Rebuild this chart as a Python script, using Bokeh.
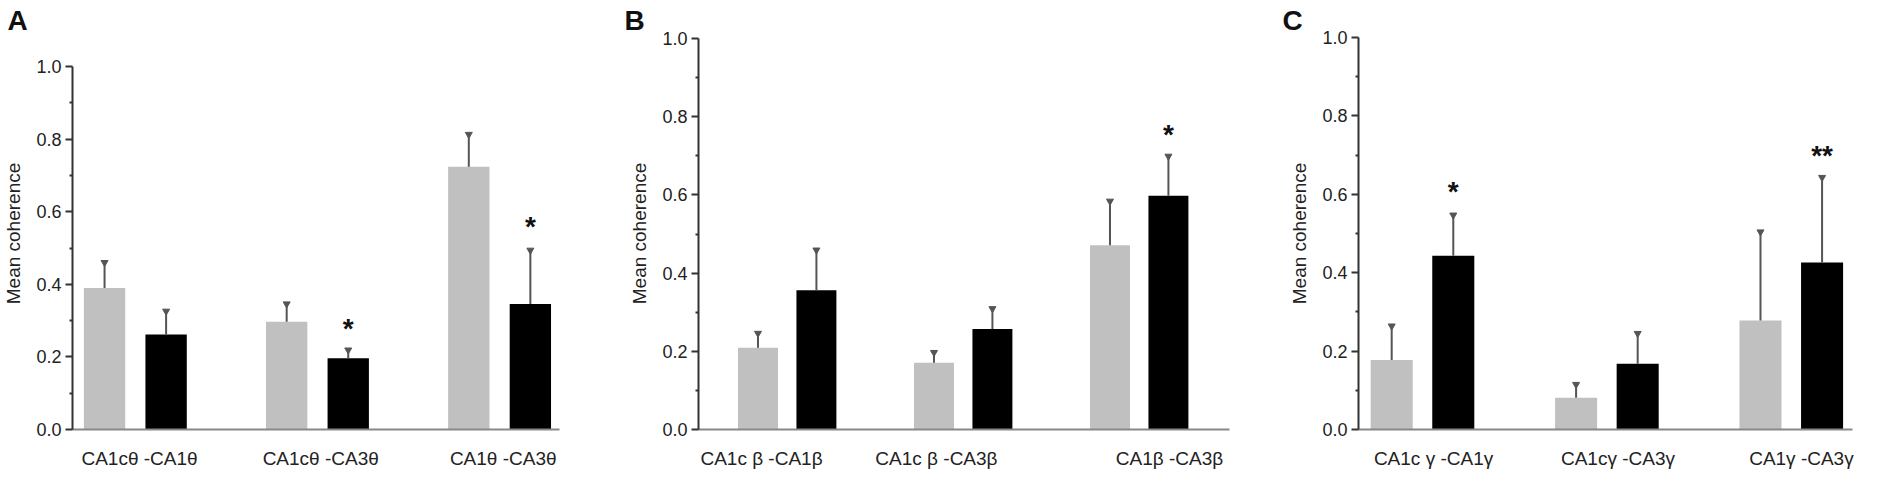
from bokeh.plotting import figure
from bokeh.layouts import row
from bokeh.models import Range1d, FixedTicker, PrintfTickFormatter, Title
from bokeh.core.properties import value
from bokeh.embed import file_html
from bokeh.resources import INLINE

FONT = "Liberation Sans"

# ---------------- data ----------------
# Panel A (theta)
a_labels = ["CA1cθ -CA1θ", "CA1cθ -CA3θ", "CA1θ -CA3θ"]
a_gray = [0.390, 0.297, 0.724]
a_gray_err = [0.070, 0.049, 0.089]
a_black = [0.262, 0.196, 0.346]
a_black_err = [0.064, 0.023, 0.148]
a_stars = ["", "*", "*"]
a_star_y = [0.0, 0.30, 0.58]

# Panel B (beta)
b_labels = ["CA1c β -CA1β", "CA1c β -CA3β", "CA1β -CA3β"]
b_gray = [0.209, 0.171, 0.471]
b_gray_err = [0.037, 0.026, 0.113]
b_black = [0.356, 0.257, 0.598]
b_black_err = [0.103, 0.052, 0.101]
b_stars = ["", "", "*"]
b_star_y = [0.0, 0.0, 0.776]

# Panel C (gamma)
c_labels = ["CA1c γ -CA1γ", "CA1cγ -CA3γ", "CA1γ -CA3γ"]
c_gray = [0.177, 0.081, 0.278]
c_gray_err = [0.087, 0.034, 0.226]
c_black = [0.443, 0.168, 0.426]
c_black_err = [0.104, 0.077, 0.217]
c_stars = ["*", "", "**"]
c_star_y = [0.628, 0.0, 0.719]

y_ticks = [0.0, 0.2, 0.4, 0.6, 0.8, 1.0]
y_minor = [0.1, 0.3, 0.5, 0.7, 0.9]

GRAY = "#c0c0c0"
BLACK = "#000000"
ERR = "#555555"
FIG_H = 473
TOP = 37
BOTTOM = 44


def panel(letter, labels, gray, gray_err, black, black_err, stars, star_y,
          width, bl, br, y_end, xr, label_pos, off, bw, letter_offset):
    p = figure(width=width, height=FIG_H, output_backend="svg", toolbar_location=None,
               x_range=Range1d(*xr), y_range=Range1d(0, y_end),
               min_border_left=bl, min_border_right=br, min_border_top=TOP,
               min_border_bottom=BOTTOM,
               background_fill_color="white", border_fill_color="white")
    p.outline_line_color = None
    p.xgrid.visible = False
    p.ygrid.visible = False

    p.title = Title(text=letter, align="left", offset=letter_offset,
                    standoff=3, text_font=FONT, text_font_size="28px",
                    text_font_style="bold", text_color="#111111")

    xs = list(range(len(labels)))
    xg = [x - off for x in xs]
    xb = [x + off for x in xs]
    p.vbar(x=xg, top=gray, width=bw, fill_color=GRAY, line_color=None)
    p.vbar(x=xb, top=black, width=bw, fill_color=BLACK, line_color=None)

    # error bars (upper only)
    for xx, v, e in ((xg, gray, gray_err), (xb, black, black_err)):
        tops = [a + b for a, b in zip(v, e)]
        p.segment(x0=xx, y0=v, x1=xx, y1=tops, line_color=ERR, line_width=2)
        p.scatter(x=xx, y=tops, marker="inverted_triangle", size=7,
                  fill_color=ERR, line_color=ERR)

    sx = [xb[i] for i in range(len(stars)) if stars[i]]
    sy = [star_y[i] for i in range(len(stars)) if stars[i]]
    st = [s for s in stars if s]
    p.text(x=sx, y=sy, text=st, text_font=value(FONT), text_font_size="28px",
           text_font_style="bold", text_align="center", text_baseline="middle",
           text_color="#111111", y_offset=8)

    # y axis
    ya = p.yaxis[0]
    ya.bounds = (0, 1.0)
    ya.ticker = FixedTicker(ticks=y_ticks, minor_ticks=y_minor)
    ya.formatter = PrintfTickFormatter(format="%.1f")
    ya.axis_label = "Mean coherence"
    ya.axis_label_text_font = FONT
    ya.axis_label_text_font_size = "19px"
    ya.axis_label_text_font_style = "normal"
    ya.axis_label_text_color = "#222222"
    ya.axis_label_standoff = 9
    ya.major_label_text_font = FONT
    ya.major_label_text_font_size = "18px"
    ya.major_label_text_color = "#222222"
    ya.major_label_standoff = 4
    ya.axis_line_color = "#333333"
    ya.axis_line_width = 2
    ya.major_tick_line_color = "#333333"
    ya.major_tick_line_width = 2
    ya.major_tick_in = 0
    ya.major_tick_out = 7
    ya.minor_tick_line_color = "#333333"
    ya.minor_tick_line_width = 2
    ya.minor_tick_in = 0
    ya.minor_tick_out = 3

    # x axis
    xa = p.xaxis[0]
    xa.ticker = FixedTicker(ticks=label_pos, minor_ticks=[])
    xa.major_label_overrides = {pos: lab for pos, lab in zip(label_pos, labels)}
    xa.major_label_text_font = FONT
    xa.major_label_text_font_size = "19px"
    xa.major_label_text_color = "#222222"
    xa.major_label_standoff = 12
    xa.axis_line_color = "#888888"
    xa.axis_line_width = 2
    xa.major_tick_line_color = None
    xa.minor_tick_line_color = None
    return p


pa = panel("A", a_labels, a_gray, a_gray_err, a_black, a_black_err, a_stars, a_star_y,
           620, 65, 61, 1.0799, (-0.345, 2.329), [0.023, 1.018, 2.02], 0.169, 0.227, -65)
pb = panel("B", b_labels, b_gray, b_gray_err, b_black, b_black_err, b_stars, b_star_y,
           620, 78, 11, 1.0026, (-0.504, 2.513), [-0.146, 0.848, 2.172], 0.166, 0.227, -74)
pc = panel("C", c_labels, c_gray, c_gray_err, c_black, c_black_err, c_stars, c_star_y,
           622, 118, 10, 1.0, (-0.347, 2.332), [0.06, 1.06, 2.055], 0.167, 0.228, -76)

layout = row(pa, pb, pc)
open("out.html", "w").write(file_html(layout, INLINE))
